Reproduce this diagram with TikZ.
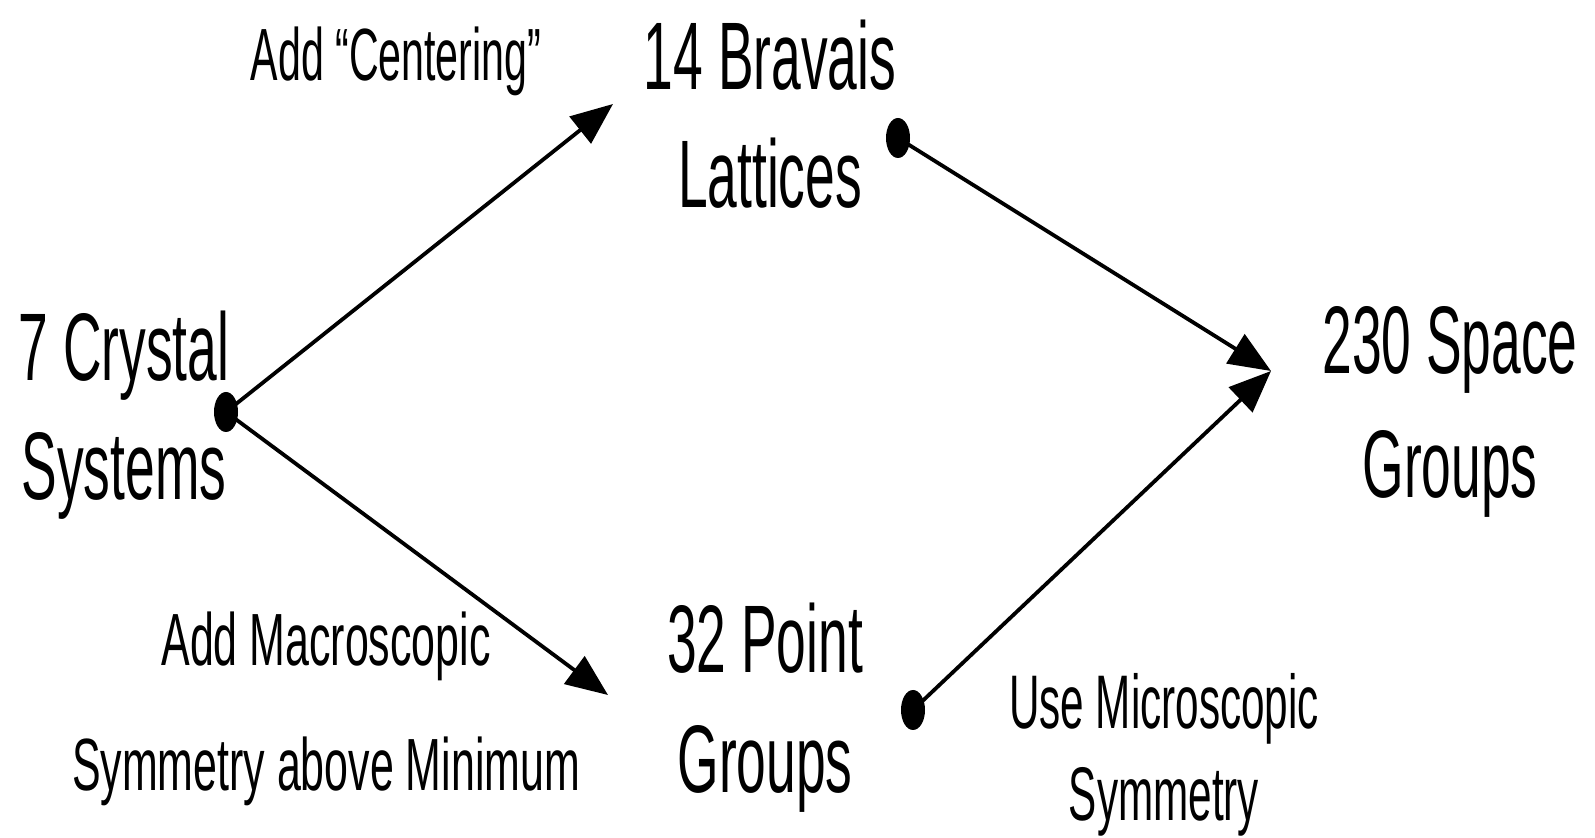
\documentclass[tikz,border=0pt]{standalone}
\usepackage{fontspec}
\setmainfont{Liberation Sans}
\usepackage{graphicx}
\usetikzlibrary{arrows.meta,shapes.geometric}
\newcommand\lab[4][0.556]{\scalebox{#1}[1]{\fontsize{#2}{#3}\selectfont\begin{tabular}[t]{@{}c@{}}#4\end{tabular}}}
\begin{document}
\begin{tikzpicture}[x=0.5pt,y=-0.5pt,
  txt/.style={inner sep=0pt, anchor=base},
  dot/.style={fill=black, ellipse, minimum width=12pt, minimum height=20pt, inner sep=0pt},
  arr/.style={line width=1.9pt, -{Triangle[length=21pt,width=17pt]}}]
\useasboundingbox (0,0) rectangle (1595,838);
% labels
\node[txt] (crystal) at (124,381) {\lab{48}{59.5}{7 Crystal\\Systems}};
\node[txt] (bravais) at (770,90) {\lab{48}{59}{14 Bravais\\Lattices}};
\node[txt] (point) at (765,673) {\lab{48}{60}{32 Point\\Groups}};
\node[txt] (space) at (1450,374) {\lab{48}{62}{230 Space\\Groups}};
\node[txt] (centering) at (396,81) {\lab{37}{40}{Add “Centering”}};
\node[txt] (macro) at (326,666) {\lab[0.58]{37}{62.5}{Add Macroscopic\\Symmetry above Minimum}};
\node[txt] (micro) at (1164,728) {\lab{38}{46}{Use Microscopic\\Symmetry}};
% dots
\node[dot] (d1) at (226,412) {};
\node[dot] (d2) at (898,138) {};
\node[dot] (d3) at (913,710) {};
% arrow tips
\coordinate (t1) at (613,104);
\coordinate (t2) at (608,695);
\coordinate (t3) at (1271,371);
% connectors
\draw[arr] (d1.center) -- (t1);
\draw[arr] (d1.center) -- (t2);
\draw[arr] (d2.center) -- (t3);
\draw[arr] (d3.center) -- (t3);
\end{tikzpicture}
\end{document}
